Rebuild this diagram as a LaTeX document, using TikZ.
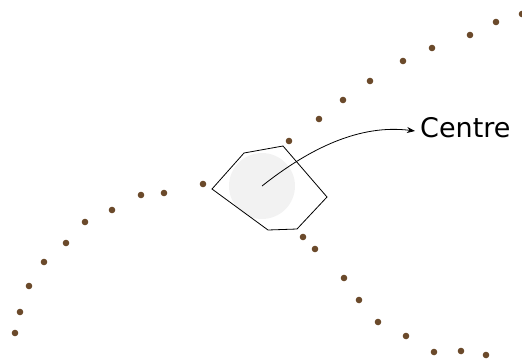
\documentclass[tikz,border=0pt]{standalone}
\definecolor{seedBrown}{HTML}{6B4A2B}
\definecolor{hubGrey}{HTML}{F2F2F2}
\usepackage{fontspec}
\setmainfont{DejaVu Sans}
\usepackage{tikz}
\usetikzlibrary{arrows.meta}

\begin{document}
\begin{tikzpicture}[
        x=1pt, y=-1pt,
        seed/.style={fill=seedBrown},
        hub/.style={circle, fill=hubGrey, minimum size=66pt, inner sep=0pt},
        cell/.style={draw=black, line width=0.8pt, line join=miter},
        arrow/.style={-{Stealth[length=8pt, width=6pt, inset=2.5pt]}, line width=0.8pt},
        label/.style={anchor=base west, inner sep=0pt, font=\fontsize{27}{32}\selectfont}
      ]
        \useasboundingbox (0,0) rectangle (522,360);
        % dotted tracks
        \foreach \p in {(289,141),(319,119),(343,100),(370,81),(403,61),(432,48),(470,35),(496,22),(522,14)}
          \fill[seed] \p circle (3.3);
        \foreach \p in {(203,184),(164,193),(141,195),(112,210),(85,222),(66,243),(44,262),(29,286),(20,312),(15,333)}
          \fill[seed] \p circle (3.3);
        \foreach \p in {(303,237),(315,249),(344,278),(359,300),(378,322),(406,336),(434,352),(461,351),(486,355)}
          \fill[seed] \p circle (3.3);
        \node[hub] (hub) at (262,186) {};
        \draw[cell] (212,189) -- (244,153) -- (283,146) -- (327,197) -- (297,229) -- (268,230) -- cycle;
        \node[label] (centre) at (420,137) {Centre};
        \coordinate (tip) at (415,131);
        \draw[arrow] (hub.center) .. controls (310,148) and (360,124) .. (tip);
      \end{tikzpicture}
\end{document}
